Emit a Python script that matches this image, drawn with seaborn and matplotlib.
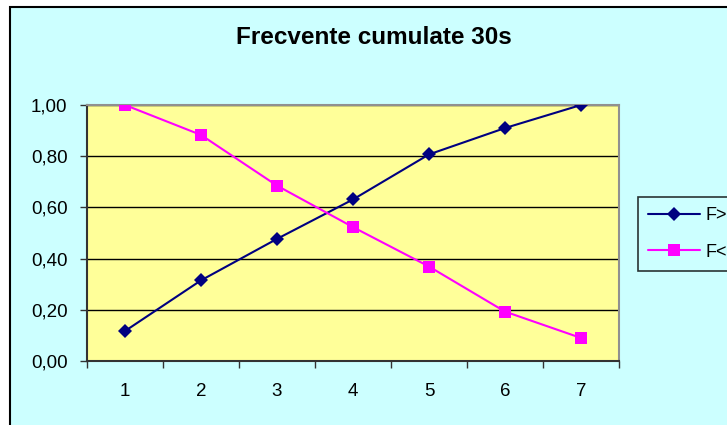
import matplotlib
matplotlib.use("Agg")
import matplotlib.pyplot as plt
from matplotlib.patches import Rectangle
from matplotlib.lines import Line2D
from matplotlib.ticker import FixedLocator, FixedFormatter
import seaborn as sns
import pandas as pd

# Cumulative frequencies per class
classes = [1, 2, 3, 4, 5, 6, 7]
f_greater = [0.117, 0.315, 0.477, 0.631, 0.807, 0.910, 1.000]
f_less = [1.000, 0.883, 0.685, 0.523, 0.369, 0.193, 0.090]
series_names = ["F>", "F<"]
y_ticks = [0.0, 0.2, 0.4, 0.6, 0.8, 1.0]
y_tick_labels = ["0,00", "0,20", "0,40", "0,60", "0,80", "1,00"]
title = "Frecvente cumulate 30s"

sns.set_style("white")
plt.rcParams["font.family"] = ["Liberation Sans", "DejaVu Sans"]
plt.rcParams["text.color"] = "black"
plt.rcParams["xtick.color"] = "#333333"
plt.rcParams["ytick.color"] = "#333333"
plt.rcParams["xtick.labelcolor"] = "black"
plt.rcParams["ytick.labelcolor"] = "black"

W, H = 727, 425
fig = plt.figure(figsize=(W / 100, H / 100), dpi=100)
fig.patch.set_facecolor("white")

# Chart area panel with black frame
fig.patches.append(Rectangle((9.5 / W, -0.1), 1.2, 1.1 - 7.5 / H,
                             transform=fig.transFigure, facecolor="#CCFFFF",
                             edgecolor="black", linewidth=1.5, zorder=-10))

ax = fig.add_axes([87 / W, 1 - 361 / H, 532 / W, 256 / H])
ax.set_facecolor("#FFFF99")

df = pd.DataFrame({
    "clasa": classes * 2,
    "valoare": f_greater + f_less,
    "serie": [series_names[0]] * len(classes) + [series_names[1]] * len(classes),
})
colors = {"F>": "#000080", "F<": "#FF00FF"}
markers = {"F>": "D", "F<": "s"}
sizes = {"F>": 7.0, "F<": 8.0}

sns.lineplot(data=df, x="clasa", y="valoare", hue="serie", style="serie",
             palette=colors, markers=markers, dashes=False, linewidth=1.5,
             legend=False, ax=ax, zorder=3)
for line, name in zip(ax.lines, series_names):
    line.set_markeredgecolor(colors[name])
    line.set_markerfacecolor(colors[name])
    line.set_markersize(sizes[name])
    line.set_markeredgewidth(0)

ax.set_xlim(0.5, 7.5)
ax.set_ylim(0, 1)
ax.set_xlabel("")
ax.set_ylabel("")

# Category boundaries carry tick marks, category centres carry labels
ax.xaxis.set_major_locator(FixedLocator([c - 0.5 for c in classes] + [classes[-1] + 0.5]))
ax.xaxis.set_major_formatter(FixedFormatter([""] * (len(classes) + 1)))
ax.xaxis.set_minor_locator(FixedLocator(classes))
ax.xaxis.set_minor_formatter(FixedFormatter([str(c) for c in classes]))
ax.tick_params(axis="x", which="major", direction="out", length=5, width=1,
               color="#333333", bottom=True)
ax.tick_params(axis="x", which="minor", length=0, pad=16, labelsize=13.5,
               bottom=True, labelcolor="black")

ax.set_yticks(y_ticks)
ax.set_yticklabels(y_tick_labels)
ax.tick_params(axis="y", direction="out", length=5, width=1, color="#333333",
               pad=9, labelsize=13.5, left=True, labelcolor="black")

ax.yaxis.grid(True, color="black", linewidth=1)
ax.set_axisbelow(True)

for side in ["left", "bottom"]:
    ax.spines[side].set_color("#333333")
    ax.spines[side].set_linewidth(1.5)
for side in ["top", "right"]:
    ax.spines[side].set_color("#909090")
    ax.spines[side].set_linewidth(1.5)

fig.text(374 / W, 1 - 37 / H, title, ha="center", va="center",
         fontsize=17.5, fontweight="bold", color="black")

handles = [Line2D([], [], color=colors[n], marker=markers[n], markersize=sizes[n],
                  markeredgewidth=0, linewidth=1.5) for n in series_names]
leg = fig.legend(handles, series_names, loc="upper left",
                 bbox_to_anchor=(638 / W, 1 - 197 / H), bbox_transform=fig.transFigure,
                 frameon=True, fancybox=False, fontsize=13, handlelength=2.9,
                 handletextpad=0.28, borderpad=0.55, labelspacing=1.1,
                 borderaxespad=0)
leg.get_frame().set_edgecolor("black")
leg.get_frame().set_facecolor("#CCFFFF")
leg.get_frame().set_linewidth(1.2)
for t in leg.get_texts():
    t.set_color("black")

fig.savefig("out.png", dpi=100, facecolor=fig.get_facecolor())
